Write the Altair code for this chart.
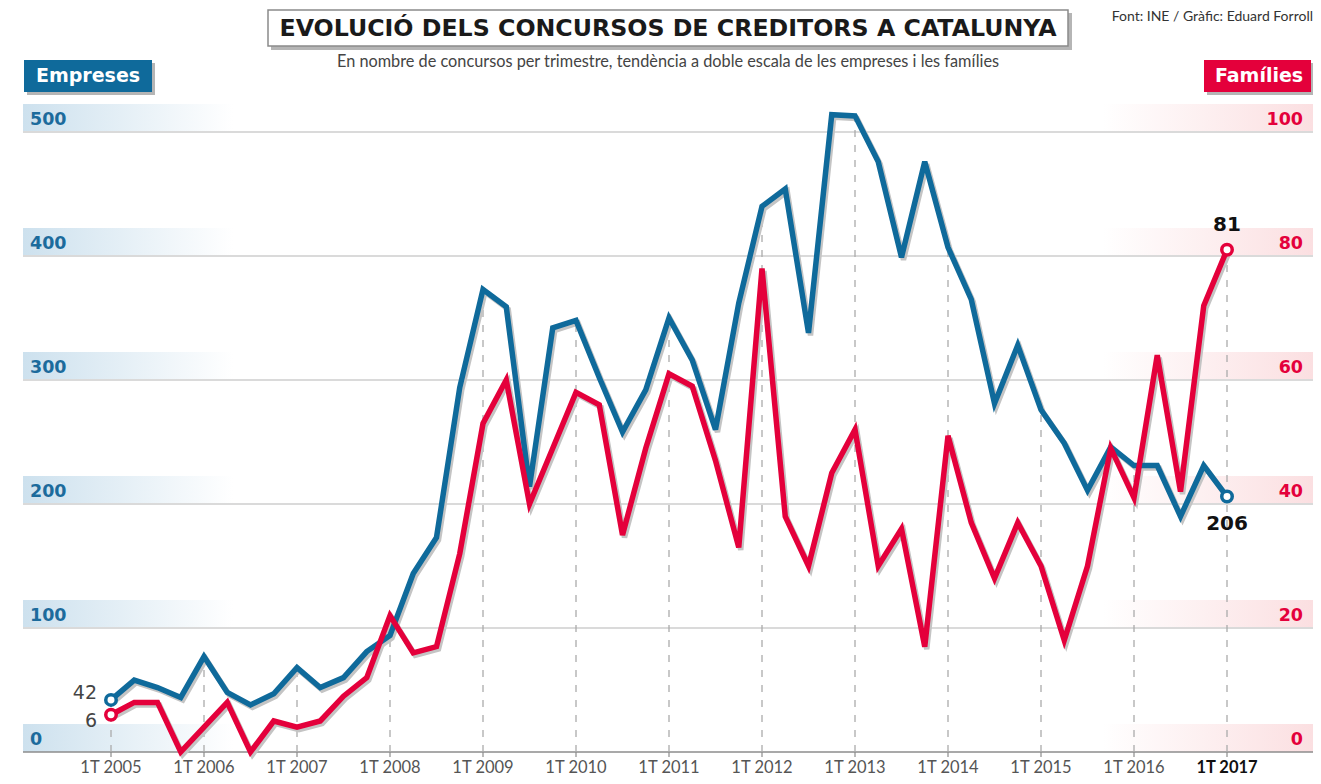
import altair as alt
import pandas as pd

# ---------------- data ----------------
quarter_index = list(range(49))  # 1T 2005 ... 1T 2017
empreses = [42, 58, 52, 44, 77, 48, 38, 47, 68, 52, 60, 81, 94, 144, 173, 294,
            373, 359, 214, 342, 348, 302, 258, 292, 350, 316, 260, 362, 440, 454,
            338, 514, 513, 476, 399, 476, 407, 365, 281, 328, 276, 249, 211, 246,
            231, 231, 190, 231, 206]
families = [6, 8, 8, 0, 4, 8, 0, 5, 4, 5, 9, 12, 22, 16, 17, 32,
            53, 60, 40, 49, 58, 56, 35, 49, 61, 59, 47, 33, 78, 38,
            30, 45, 52, 30, 36, 17, 51, 37, 28, 37, 30, 18, 30, 49,
            41, 64, 42, 72, 81]
year_labels = ["1T 2005", "1T 2006", "1T 2007", "1T 2008", "1T 2009", "1T 2010",
               "1T 2011", "1T 2012", "1T 2013", "1T 2014", "1T 2015", "1T 2016",
               "1T 2017"]
year_index = [0, 4, 8, 12, 16, 20, 24, 28, 32, 36, 40, 44, 48]
emp_ticks = [0, 100, 200, 300, 400, 500]
fam_ticks = [0, 20, 40, 60, 80, 100]

title_text = "EVOLUCIÓ DELS CONCURSOS DE CREDITORS A CATALUNYA"
subtitle_text = "En nombre de concursos per trimestre, tendència a doble escala de les empreses i les famílies"
source_text = "Font: INE / Gràfic: Eduard Forroll"

# ---------------- tables ----------------
df = pd.DataFrame({"q": quarter_index, "emp": empreses, "fam": families})
years = pd.DataFrame({"q": year_index, "label": year_labels,
                      "emp": [empreses[i] for i in year_index],
                      "fam": [families[i] for i in year_index]})
years["last"] = years["q"] == year_index[-1]
ticks = pd.DataFrame({"e": emp_ticks, "f": fam_ticks})
ends = df.iloc[[0, len(df) - 1]].reset_index(drop=True)
ends["pos"] = ["start", "end"]
one = pd.DataFrame({"a": [0]})

BLUE = "#0f6a9b"
RED = "#e4003b"
FONT = "Lato"
BOLDFONT = "DejaVu Sans"

xs = alt.Scale(domain=[0, 48], range=[103, 1219])
ye = alt.Scale(domain=[0, 500], range=[744, 124])
yf = alt.Scale(domain=[0, 100], range=[744, 124])

X = alt.X("q:Q", scale=xs, axis=None)

# gradient label bands
grad_left = alt.Gradient(gradient="linear", x1=0, x2=1, y1=0, y2=0,
                         stops=[alt.GradientStop(color="#cde1ee", offset=0),
                                alt.GradientStop(color="#ffffff", offset=1)])
grad_right = alt.Gradient(gradient="linear", x1=0, x2=1, y1=0, y2=0,
                          stops=[alt.GradientStop(color="#ffffff", offset=0),
                                 alt.GradientStop(color="#fbdfe1", offset=1)])

band_left = alt.Chart(ticks).transform_calculate(top="datum.e + 22.5").mark_rect(
    fill=grad_left).encode(
    x=alt.value(15), x2=alt.value(225),
    y=alt.Y("e:Q", scale=ye, axis=None), y2="top:Q")
band_right = alt.Chart(ticks).transform_calculate(top="datum.e + 22.5").mark_rect(
    fill=grad_right).encode(
    x=alt.value(1095), x2=alt.value(1305),
    y=alt.Y("e:Q", scale=ye, axis=None), y2="top:Q")

grid = alt.Chart(ticks).transform_filter("datum.e > 0").mark_rule(
    color="#dadada", strokeWidth=2).encode(
    x=alt.value(15), x2=alt.value(1305), y=alt.Y("e:Q", scale=ye, axis=None))
base = alt.Chart(ticks).transform_filter("datum.e == 0").mark_rule(
    color="#8c8c8c", strokeWidth=1.5).encode(
    x=alt.value(15), x2=alt.value(1305), y=alt.Y("e:Q", scale=ye, axis=None))

dashes = alt.Chart(years).transform_calculate(
    top="max(datum.emp, datum.fam * 5)", zero="0").mark_rule(
    color="#ababab", strokeWidth=1.3, strokeDash=[7, 8]).encode(
    x=X, y=alt.Y("zero:Q", scale=ye, axis=None), y2="top:Q")

xticks = alt.Chart(years).mark_rule(color="#8c8c8c", strokeWidth=1.2).encode(
    x=X, y=alt.value(744), y2=alt.value(749))

xlabels = alt.Chart(years).transform_filter("!datum.last").mark_text(
    font=FONT, fontSize=16.5, baseline="middle", color="#555555").encode(
    x=X, y=alt.value(760), text="label:N")
xlabel_last = alt.Chart(years).transform_filter("datum.last").mark_text(
    font=FONT, fontSize=16.5, fontWeight="bold", baseline="middle", color="#111111").encode(
    x=X, y=alt.value(760), text="label:N")

left_labels = alt.Chart(ticks).mark_text(
    font=BOLDFONT, fontSize=17.5, fontWeight="bold", color="#1c6b9c",
    align="left", baseline="alphabetic", dy=-7).encode(
    x=alt.value(22), y=alt.Y("e:Q", scale=ye, axis=None), text="e:Q")
right_labels = alt.Chart(ticks).mark_text(
    font=BOLDFONT, fontSize=17.5, fontWeight="bold", color=RED,
    align="right", baseline="alphabetic", dy=-7).encode(
    x=alt.value(1295), y=alt.Y("f:Q", scale=yf, axis=None), text="f:Q")

shadow_e = alt.Chart(df).mark_line(color="#c4c4c4", strokeWidth=5.5,
                                   xOffset=2, yOffset=2.5).encode(
    x=X, y=alt.Y("emp:Q", scale=ye, axis=None))
shadow_f = alt.Chart(df).mark_line(color="#c4c4c4", strokeWidth=5.5,
                                   xOffset=2, yOffset=2.5).encode(
    x=X, y=alt.Y("fam:Q", scale=yf, axis=None))
line_e = alt.Chart(df).mark_line(color=BLUE, strokeWidth=5.5).encode(
    x=X, y=alt.Y("emp:Q", scale=ye, axis=None))
line_f = alt.Chart(df).mark_line(color=RED, strokeWidth=5.5).encode(
    x=X, y=alt.Y("fam:Q", scale=yf, axis=None))

dot_e = alt.Chart(ends).mark_point(shape="circle", filled=False, fill="white",
                                   fillOpacity=1, opacity=1, color=BLUE,
                                   strokeWidth=3.5, size=110).encode(
    x=X, y=alt.Y("emp:Q", scale=ye, axis=None))
dot_f = alt.Chart(ends).mark_point(shape="circle", filled=False, fill="white",
                                   fillOpacity=1, opacity=1, color=RED,
                                   strokeWidth=3.5, size=110).encode(
    x=X, y=alt.Y("fam:Q", scale=yf, axis=None))

ann_e_start = alt.Chart(ends).transform_filter("datum.pos == 'start'").mark_text(
    font=BOLDFONT, fontSize=19, color="#444444", align="right", baseline="middle",
    dx=-14, dy=-7).encode(x=X, y=alt.Y("emp:Q", scale=ye, axis=None), text="emp:Q")
ann_f_start = alt.Chart(ends).transform_filter("datum.pos == 'start'").mark_text(
    font=BOLDFONT, fontSize=19, color="#444444", align="right", baseline="middle",
    dx=-14, dy=6).encode(x=X, y=alt.Y("fam:Q", scale=yf, axis=None), text="fam:Q")
ann_e_end = alt.Chart(ends).transform_filter("datum.pos == 'end'").mark_text(
    font=BOLDFONT, fontSize=20, fontWeight="bold", color="#111111", align="center",
    baseline="middle", dy=27).encode(x=X, y=alt.Y("emp:Q", scale=ye, axis=None), text="emp:Q")
ann_f_end = alt.Chart(ends).transform_filter("datum.pos == 'end'").mark_text(
    font=BOLDFONT, fontSize=20, fontWeight="bold", color="#111111", align="center",
    baseline="middle", dy=-25).encode(x=X, y=alt.Y("fam:Q", scale=yf, axis=None), text="fam:Q")

# ---------------- header ----------------
title_shadow = alt.Chart(one).mark_rect(color="#b5b5b5").encode(
    x=alt.value(263), x2=alt.value(1064), y=alt.value(5), y2=alt.value(42))
title_box = alt.Chart(one).mark_rect(fill="white", stroke="#8a8a8a", strokeWidth=1.5).encode(
    x=alt.value(260), x2=alt.value(1060), y=alt.value(2), y2=alt.value(38))
title = alt.Chart(one).mark_text(font=BOLDFONT, fontSize=23.7, fontWeight="bold",
                                 color="#1a1a1a", baseline="middle", align="center").encode(
    x=alt.value(660), y=alt.value(21), text=alt.value(title_text))
subtitle = alt.Chart(one).mark_text(font=FONT, fontSize=16.3, color="#444444",
                                    baseline="middle", align="center").encode(
    x=alt.value(660), y=alt.value(54), text=alt.value(subtitle_text))
source = alt.Chart(one).mark_text(font=FONT, fontSize=14, color="#333333",
                                  baseline="middle", align="right").encode(
    x=alt.value(1305), y=alt.value(9), text=alt.value(source_text))

emp_shadow = alt.Chart(one).mark_rect(color="#b5b5b5").encode(
    x=alt.value(19), x2=alt.value(147), y=alt.value(55), y2=alt.value(87))
emp_box = alt.Chart(one).mark_rect(color=BLUE).encode(
    x=alt.value(16), x2=alt.value(144), y=alt.value(52), y2=alt.value(84))
emp_text = alt.Chart(one).mark_text(font=BOLDFONT, fontSize=19, fontWeight="bold",
                                    color="white", baseline="middle", align="center").encode(
    x=alt.value(80), y=alt.value(68), text=alt.value("Empreses"))
fam_shadow = alt.Chart(one).mark_rect(color="#b5b5b5").encode(
    x=alt.value(1199), x2=alt.value(1305), y=alt.value(55), y2=alt.value(87))
fam_box = alt.Chart(one).mark_rect(color=RED).encode(
    x=alt.value(1196), x2=alt.value(1303), y=alt.value(52), y2=alt.value(84))
fam_text = alt.Chart(one).mark_text(font=BOLDFONT, fontSize=19, fontWeight="bold",
                                    color="white", baseline="middle", align="center").encode(
    x=alt.value(1251), y=alt.value(68), text=alt.value("Famílies"))

chart = alt.layer(
    band_left, band_right, grid, base, dashes, xticks, xlabels, xlabel_last,
    left_labels, right_labels,
    shadow_e, shadow_f, line_e, line_f, dot_e, dot_f,
    ann_e_start, ann_f_start, ann_e_end, ann_f_end,
    title_shadow, title_box, title, subtitle, source,
    emp_shadow, emp_box, emp_text, fam_shadow, fam_box, fam_text,
).resolve_scale(y="independent").properties(
    width=1305, height=768, padding=0, background="white",
    autosize=alt.AutoSizeParams(type="none"),
).configure_view(stroke=None)

chart.save("out.html", embed_options={"renderer": "svg", "actions": False})
